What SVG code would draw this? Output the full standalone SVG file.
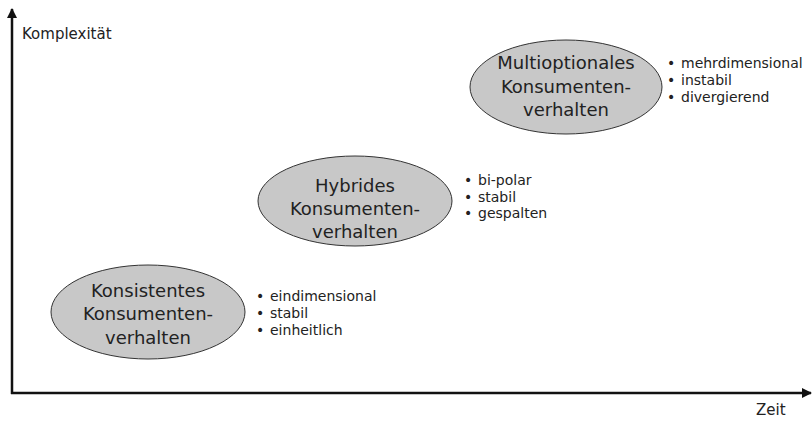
<svg xmlns="http://www.w3.org/2000/svg" width="812" height="421" viewBox="0 0 812 421">
<defs>
<marker id="arr" viewBox="0 0 10 10" refX="9" refY="5" markerWidth="4" markerHeight="4" orient="auto" markerUnits="strokeWidth">
<path d="M0,0 L10,5 L0,10 z" fill="#111"/>
</marker>
<style>
.ell{fill:#c8c8c8;stroke:#333;stroke-width:1}
.t{font-family:"DejaVu Sans",Verdana,sans-serif;font-size:18px;fill:#222;text-anchor:middle}
.b{font-family:"DejaVu Sans",Verdana,sans-serif;font-size:14px;fill:#222}
.ax{font-family:"DejaVu Sans",Verdana,sans-serif;font-size:15px;fill:#222}
</style>
</defs>
<rect width="812" height="421" fill="#fff"/>
<g id="axes">
<line x1="12" y1="394" x2="12" y2="9" stroke="#111" stroke-width="2.5" marker-end="url(#arr)"/>
<line x1="11" y1="393" x2="811" y2="393" stroke="#111" stroke-width="2.5" marker-end="url(#arr)"/>
<text class="ax" x="22" y="39">Komplexität</text>
<text class="ax" x="756" y="415">Zeit</text>
</g>
<g id="node1">
<ellipse class="ell" cx="148" cy="312" rx="97" ry="47"/>
<text class="t" x="148" y="297">Konsistentes</text>
<text class="t" x="148" y="320">Konsumenten-</text>
<text class="t" x="148" y="344">verhalten</text>
<text class="b" x="256" y="301">•</text><text class="b" x="270" y="301">eindimensional</text>
<text class="b" x="256" y="318">•</text><text class="b" x="270" y="318">stabil</text>
<text class="b" x="256" y="335">•</text><text class="b" x="270" y="335">einheitlich</text>
</g>
<g id="node2">
<ellipse class="ell" cx="355" cy="201" rx="97" ry="45"/>
<text class="t" x="355" y="192">Hybrides</text>
<text class="t" x="355" y="215">Konsumenten-</text>
<text class="t" x="355" y="238">verhalten</text>
<text class="b" x="464" y="185">•</text><text class="b" x="478" y="185">bi-polar</text>
<text class="b" x="464" y="202">•</text><text class="b" x="478" y="202">stabil</text>
<text class="b" x="464" y="218">•</text><text class="b" x="478" y="218">gespalten</text>
</g>
<g id="node3">
<ellipse class="ell" cx="566" cy="87" rx="96" ry="47"/>
<text class="t" x="566" y="69">Multioptionales</text>
<text class="t" x="566" y="93">Konsumenten-</text>
<text class="t" x="566" y="116">verhalten</text>
<text class="b" x="667" y="68">•</text><text class="b" x="681" y="68">mehrdimensional</text>
<text class="b" x="667" y="85">•</text><text class="b" x="681" y="85">instabil</text>
<text class="b" x="667" y="102">•</text><text class="b" x="681" y="102">divergierend</text>
</g>
</svg>
